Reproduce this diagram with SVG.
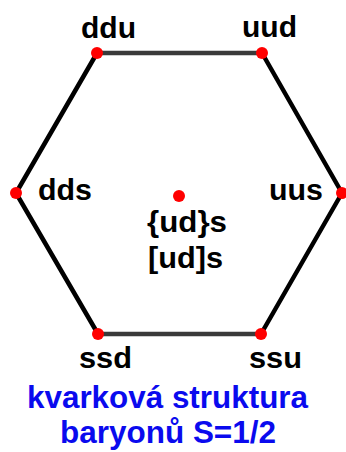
<svg xmlns="http://www.w3.org/2000/svg" width="346" height="452" viewBox="0 0 346 452">
<style>
.edge{stroke:#000;stroke-width:4.5;fill:none;stroke-linecap:round}
.h{stroke:#3a3a3a}
.dot{fill:#ff0000}
.lbl{font-family:"Liberation Sans",Arial,sans-serif;font-weight:bold;font-size:29px;fill:#000}
.cap{font-family:"Liberation Sans",Arial,sans-serif;font-weight:bold;font-size:31px;fill:#0a0aee}
</style>
<rect width="346" height="452" fill="#fff"/>
<g id="connectors">
<line class="edge h" x1="97" y1="53" x2="262" y2="53"/>
<line class="edge" x1="262" y1="53" x2="342" y2="193"/>
<line class="edge" x1="342" y1="193" x2="261" y2="334"/>
<line class="edge h" x1="261" y1="334" x2="98" y2="334"/>
<line class="edge" x1="98" y1="334" x2="16" y2="193"/>
<line class="edge" x1="16" y1="193" x2="97" y2="53"/>
</g>
<g id="ddu"><circle class="dot" cx="97" cy="53" r="6"/><text class="lbl" x="81" y="38" textLength="55" lengthAdjust="spacingAndGlyphs">ddu</text></g>
<g id="uud"><circle class="dot" cx="262" cy="53" r="6"/><text class="lbl" x="242" y="37" textLength="55" lengthAdjust="spacingAndGlyphs">uud</text></g>
<g id="dds"><circle class="dot" cx="16" cy="193" r="6"/><text class="lbl" x="38" y="200" textLength="54" lengthAdjust="spacingAndGlyphs">dds</text></g>
<g id="uus"><circle class="dot" cx="342" cy="193" r="6"/><text class="lbl" x="269" y="200" textLength="54" lengthAdjust="spacingAndGlyphs">uus</text></g>
<g id="ssd"><circle class="dot" cx="98" cy="334" r="6"/><text class="lbl" x="79" y="368" textLength="53" lengthAdjust="spacingAndGlyphs">ssd</text></g>
<g id="ssu"><circle class="dot" cx="261" cy="334" r="6"/><text class="lbl" x="249" y="368" textLength="53" lengthAdjust="spacingAndGlyphs">ssu</text></g>
<g id="center"><circle class="dot" cx="179" cy="196" r="6"/><text class="lbl" x="147" y="232" textLength="80" lengthAdjust="spacingAndGlyphs">{ud}s</text><text class="lbl" x="148" y="268" textLength="75" lengthAdjust="spacingAndGlyphs">[ud]s</text></g>
<g id="caption">
<text class="cap" x="27" y="408" textLength="281" lengthAdjust="spacingAndGlyphs">kvarková struktura</text>
<text class="cap" x="60" y="443" textLength="216" lengthAdjust="spacingAndGlyphs">baryonů S=1/2</text>
</g>
</svg>
